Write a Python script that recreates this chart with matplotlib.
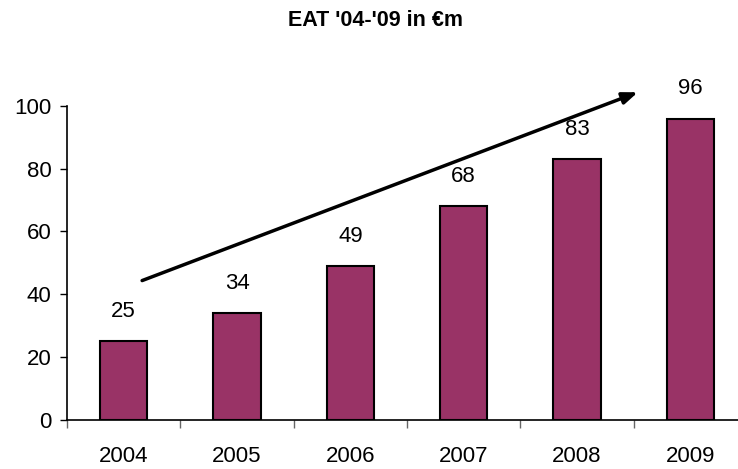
import matplotlib

matplotlib.use("Agg")
import matplotlib.pyplot as plt
from matplotlib.ticker import FixedLocator, NullFormatter

years = ["2004", "2005", "2006", "2007", "2008", "2009"]
eat = [25, 34, 49, 68, 83, 96]
title = "EAT '04-'09 in €m"

plt.rcParams["font.family"] = ["Liberation Sans", "DejaVu Sans"]

fig = plt.figure(figsize=(7.38, 4.69), dpi=100)
# axes spans a little past the right edge, like the original sheet export
ax = fig.add_axes([67 / 738, 49.5 / 469, 680 / 738, 313.5 / 469])

x = list(range(len(years)))
bars = ax.bar(x, eat, width=0.42, color="#993366", edgecolor="black", linewidth=1.5, zorder=2)

for xi, v in zip(x, eat):
    ax.annotate(f"{v}", (xi, v), xytext=(0, 21.5), textcoords="offset points",
                ha="center", va="center", fontsize=16)

ax.set_xlim(-0.5, len(years) - 0.5)
ax.set_ylim(0, 100)
ax.set_yticks(range(0, 101, 20))
ax.tick_params(axis="y", labelsize=16, length=5, width=1, direction="out", pad=6)

ax.set_xticks(x)
ax.set_xticklabels(years)
ax.tick_params(axis="x", which="major", length=0, labelsize=16, pad=19)
ax.xaxis.set_minor_locator(FixedLocator([i - 0.5 for i in range(len(years) + 1)]))
ax.xaxis.set_minor_formatter(NullFormatter())
ax.tick_params(axis="x", which="minor", length=6, width=1, color="#666666", direction="out")

for side in ("top", "right"):
    ax.spines[side].set_visible(False)
ax.spines["left"].set_linewidth(1.2)
ax.spines["bottom"].set_linewidth(1.2)

# growth trend arrow
ax.annotate("", xy=(4.56, 104.7), xytext=(0.14, 44),
            arrowprops=dict(arrowstyle="-|>,head_length=0.9,head_width=0.35",
                            color="black", lw=2.5),
            annotation_clip=False)

fig.text(375 / 738, 1 - 20 / 469, title, ha="center", va="center",
         fontsize=15.5, fontweight="bold")

fig.savefig("out.png", dpi=100)
